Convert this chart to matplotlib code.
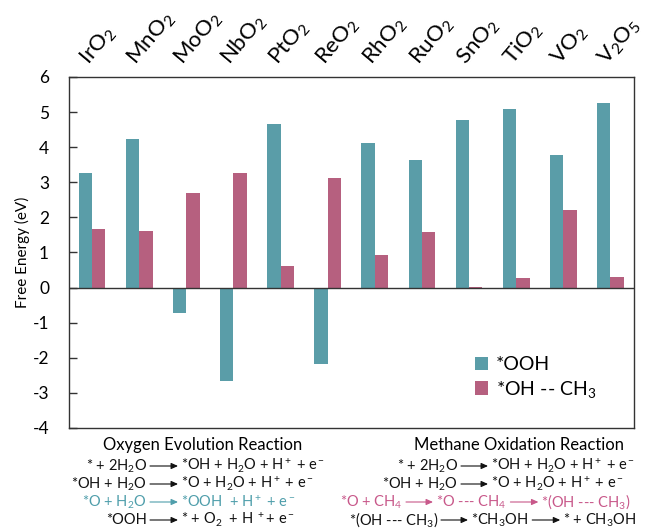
import matplotlib

matplotlib.use("Agg")
import matplotlib.pyplot as plt
from matplotlib.patches import FancyArrowPatch
import numpy as np

plt.rcParams["font.family"] = ["Lato", "DejaVu Sans"]
plt.rcParams["mathtext.fontset"] = "custom"
plt.rcParams["mathtext.rm"] = "Lato"
plt.rcParams["mathtext.it"] = "Lato"
plt.rcParams["mathtext.bf"] = "Lato"
plt.rcParams["axes.unicode_minus"] = False

oxides = ["IrO$_2$", "MnO$_2$", "MoO$_2$", "NbO$_2$", "PtO$_2$", "ReO$_2$",
          "RhO$_2$", "RuO$_2$", "SnO$_2$", "TiO$_2$", "VO$_2$", "V$_2$O$_5$"]
ooh = [3.27, 4.22, -0.72, -2.65, 4.65, -2.18, 4.12, 3.64, 4.77, 5.10, 3.79, 5.26]
oh_ch3 = [1.66, 1.62, 2.70, 3.27, 0.62, 3.13, 0.94, 1.58, 0.03, 0.28, 2.22, 0.31]

TEAL = "#5a9da8"
PINK = "#b6607f"

W, H = 655, 529
fig = plt.figure(figsize=(W / 100, H / 100), dpi=100)
ax = fig.add_axes([68.5 / W, 1 - 428 / H, (634 - 68.5) / W, (428 - 77) / H])

x = np.arange(len(oxides))
bw = 0.285
ax.bar(x - bw / 2, ooh, width=bw, color=TEAL, label="*OOH")
ax.bar(x + bw / 2, oh_ch3, width=bw, color=PINK, label="*OH -- CH$_3$")
ax.axhline(0, color="#333333", linewidth=1.0)

ax.set_xlim(-0.5, len(oxides) - 0.5)
ax.set_ylim(-4, 6)
ax.set_yticks(range(-4, 7))
ax.set_xticks([])
ax.tick_params(axis="y", direction="in", length=6, width=1, labelsize=12.5, color="#333333", pad=14)
for sp in ax.spines.values():
    sp.set_color("#333333")
    sp.set_linewidth(1.0)
ax.set_ylabel("Free Energy (eV)", fontsize=11, labelpad=2)

# oxide labels, rotated above the plot
for i, name in enumerate(oxides):
    xf = ax.transData.transform((i, 0))[0] / W
    fig.text(xf - 3 / W, 1 - 66 / H, name, rotation=50, rotation_mode="anchor",
             ha="left", va="baseline", fontsize=16)

ax.legend(loc="lower right", bbox_to_anchor=(0.965, 0.03), frameon=False, fontsize=14,
          handlelength=0.7, handleheight=0.7, handletextpad=0.4, labelspacing=0.3)

fig.canvas.draw()
renderer = fig.canvas.get_renderer()
FS = 10.5


def fx(px):
    return px / W


def fy(py):
    return 1 - py / H


def arrow(x0, x1, y, color):
    fig.add_artist(FancyArrowPatch(
        (fx(x0), fy(y)), (fx(x1), fy(y)), transform=fig.transFigure,
        arrowstyle="-|>,head_length=4,head_width=1.8", color=color, lw=0.8,
        shrinkA=0, shrinkB=0))


def line(y, x_arrow, first, rest, color="#111111", gap=3):
    # first text right-aligned before the first arrow, then flow to the right
    fig.text(fx(x_arrow - gap), fy(y), first, ha="right", va="center", fontsize=FS, color=color)
    cur = x_arrow
    for item in rest:
        if isinstance(item, (int, float)):
            arrow(cur, cur + item, y, color)
            cur += item + gap
        else:
            t = fig.text(fx(cur), fy(y), item, ha="left", va="center", fontsize=FS, color=color)
            bb = t.get_window_extent(renderer)
            cur = bb.x1 + gap + 1


fig.text(fx(203), fy(445), "Oxygen Evolution Reaction", ha="center", va="center", fontsize=12)
line(466, 150, "* + 2H$_2$O", [28, "*OH + H$_2$O + H$^+$ + e$^-$"])
line(484, 150, "*OH + H$_2$O", [28, "*O + H$_2$O + H$^+$ + e$^-$"])
line(502, 150, "*O + H$_2$O", [28, "*OOH  + H$^+$ + e$^-$"], color="#4f9eab")
line(520, 150, "*OOH", [28, "* + O$_2$  + H $^+$+ e$^-$"])

fig.text(fx(519), fy(445), "Methane Oxidation Reaction", ha="center", va="center", fontsize=12)
line(466, 461, "* + 2H$_2$O", [27, "*OH + H$_2$O + H$^+$ + e$^-$"])
line(484, 461, "*OH + H$_2$O", [27, "*O + H$_2$O + H$^+$ + e$^-$"])
line(502, 406, "*O + CH$_4$", [27, "*O --- CH$_4$", 28, "*(OH --- CH$_3$)"], color="#c8588a")
line(520, 441, "*(OH --- CH$_3$)", [27, "*CH$_3$OH", 28, "* + CH$_3$OH"])

fig.savefig("out.png", dpi=100)
